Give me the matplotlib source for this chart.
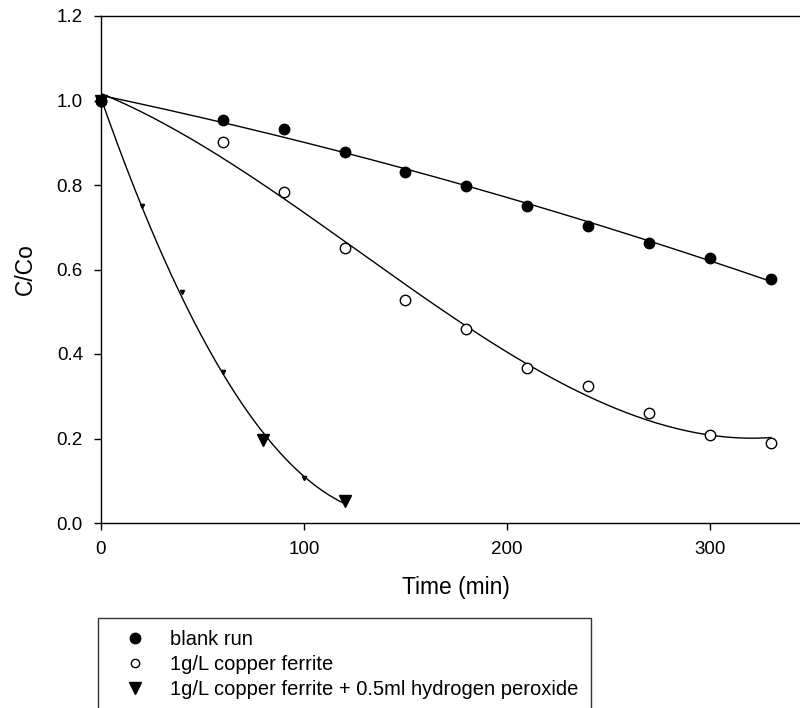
import numpy as np
import matplotlib.pyplot as plt
from matplotlib.lines import Line2D

plt.rcParams['font.family'] = ['Liberation Sans', 'DejaVu Sans']

# data
time_blank = [0, 60, 90, 120, 150, 180, 210, 240, 270, 300, 330]
blank = [1.0, 0.955, 0.932, 0.879, 0.831, 0.798, 0.750, 0.703, 0.663, 0.627, 0.577]

time_ferrite = [0, 60, 90, 120, 150, 180, 210, 240, 270, 300, 330]
ferrite = [1.0, 0.902, 0.784, 0.650, 0.528, 0.459, 0.368, 0.324, 0.260, 0.208, 0.190]

time_h2o2 = [0, 20, 40, 60, 80, 100, 120]
h2o2 = [1.0, 0.750, 0.547, 0.358, 0.196, 0.107, 0.053]

labels = ['blank run', '1g/L copper ferrite',
          '1g/L copper ferrite + 0.5ml hydrogen peroxide']

# some triangles are barely drawn in the original
tri_small = [False, True, True, True, False, True, False]

fig = plt.figure(figsize=(8, 7.08), dpi=100)
ax = fig.add_axes([101 / 800, 185 / 708, 350 * 2.03 / 800, 507 / 708])

# fitted curves
def fit_line(x, y, deg):
    p = np.polyfit(x, y, deg)
    xs = np.linspace(min(x), max(x), 200)
    return xs, np.polyval(p, xs)

for x, y, deg in [(time_blank, blank, 2), (time_ferrite, ferrite, 3), (time_h2o2, h2o2, 2)]:
    xs, ys = fit_line(x, y, deg)
    ax.plot(xs, ys, color='black', lw=1.0, zorder=2)

# markers
tx = np.array(time_h2o2)
ty = np.array(h2o2)
small = np.array(tri_small)
ax.plot(tx[~small], ty[~small], 'v', color='black', ms=8, ls='none', clip_on=False, zorder=3)
ax.plot(tx[small], ty[small], 'v', color='black', ms=3, ls='none', clip_on=False, zorder=3)
ax.plot(time_ferrite, ferrite, 'o', mfc='white', mec='black', mew=1.0, ms=7.5,
        ls='none', clip_on=False, zorder=4)
ax.plot(time_blank, blank, 'o', color='black', ms=7.5, ls='none', clip_on=False, zorder=5)

ax.set_xlim(0, 350)
ax.set_ylim(0, 1.2)
ax.set_xticks([0, 100, 200, 300])
ax.set_yticks(np.arange(0, 1.21, 0.2))
ax.yaxis.set_major_formatter(plt.FormatStrFormatter('%.1f'))
ax.spines['right'].set_visible(False)
for s in ['left', 'bottom', 'top']:
    ax.spines[s].set_linewidth(1.0)
ax.tick_params(direction='out', length=5, width=1.0, labelsize=13.5, pad=8,
               top=False, right=False)

ax.set_xlabel('Time (min)', fontsize=16.4, labelpad=13)
ax.set_ylabel('C/Co', fontsize=16.4, labelpad=14)

handles = [
    Line2D([], [], marker='o', color='black', ls='none', ms=7.5),
    Line2D([], [], marker='o', mfc='white', mec='black', mew=1.0, ls='none', ms=6),
    Line2D([], [], marker='v', color='black', ls='none', ms=8),
]
leg = fig.legend(handles, labels, loc='upper left',
                 bbox_to_anchor=(98 / 800, 1 - 618 / 708),
                 fontsize=14.5, frameon=True, fancybox=False, shadow=False,
                 borderpad=0.6, labelspacing=0.3, handlelength=2.5,
                 handletextpad=0.5, borderaxespad=0)
leg.get_frame().set_edgecolor('black')
leg.get_frame().set_linewidth(1.0)

fig.savefig('out.png', dpi=100)
